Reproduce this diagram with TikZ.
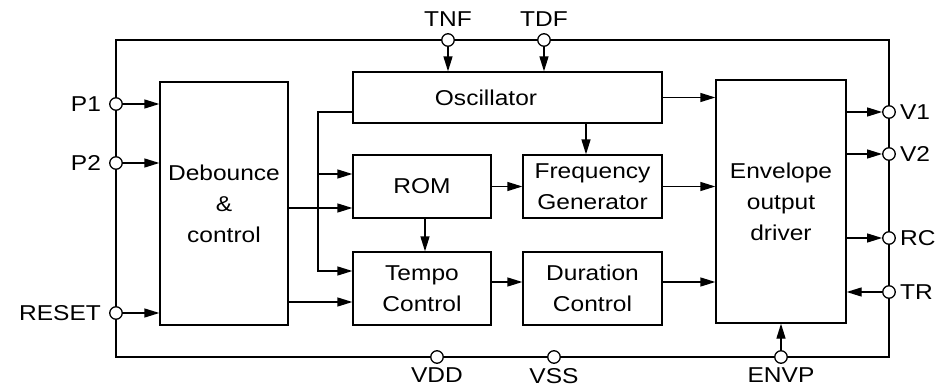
\documentclass[tikz,border=0pt]{standalone}
\usepackage{fontspec}
\setmainfont{Liberation Sans}[FakeStretch=1.14]
\usetikzlibrary{arrows.meta}
\begin{document}
\begin{tikzpicture}[x=1pt,y=-1pt,
  every node/.style={font=\fontsize{21.5}{31}\selectfont},
  box/.style={draw, line width=1.3pt, inner sep=0pt, align=center},
  pin/.style={draw, circle, fill=white, line width=1.3pt, minimum size=12.5pt, inner sep=0pt},
  wire/.style={line width=1.3pt},
  arr/.style={line width=1.3pt, -{Triangle[length=15pt,width=9pt]}},
  lbl/.style={inner sep=0pt}]
\useasboundingbox (0,0) rectangle (938,391);
% frame
\draw[wire] (116,40) rectangle (889,357);
% blocks
\node[box, minimum width=128pt, minimum height=243pt] (deb) at (224,203.5) {Debounce\\\&\\control};
\node[box, minimum width=309pt, minimum height=51pt] (osc) at (507.5,97.5) {};
\node[lbl] (osclbl) at (486,97.5) {Oscillator};
\node[box, minimum width=138pt, minimum height=63pt] (rom) at (422,186.5) {ROM};
\node[box, minimum width=139pt, minimum height=63pt] (freq) at (592.5,186.5) {Frequency\\Generator};
\node[box, minimum width=138pt, minimum height=73pt] (tempo) at (422,288.5) {Tempo\\Control};
\node[box, minimum width=139pt, minimum height=73pt] (dur) at (592.5,288.5) {Duration\\Control};
\node[box, minimum width=130pt, minimum height=243pt] (env) at (781,201.5) {Envelope\\output\\driver};
% pins
\node[pin] (p1) at (116,104) {};
\node[pin] (p2) at (116,163) {};
\node[pin] (reset) at (116,313) {};
\node[pin] (tnf) at (448,40) {};
\node[pin] (tdf) at (544,40) {};
\node[pin] (vdd) at (437,357) {};
\node[pin] (vss) at (554,357) {};
\node[pin] (envp) at (781,357) {};
\node[pin] (v1) at (889,112) {};
\node[pin] (v2) at (889,154) {};
\node[pin] (rc) at (889,238) {};
\node[pin] (tr) at (889,292) {};
% pin labels
\node[lbl, anchor=east] at ([xshift=-8pt]p1.west) {P1};
\node[lbl, anchor=east] at ([xshift=-8pt]p2.west) {P2};
\node[lbl, anchor=east] at ([xshift=-8pt]reset.west) {RESET};
\node[lbl, anchor=base] at ([yshift=7pt]tnf.north) {TNF};
\node[lbl, anchor=base] at ([yshift=7pt]tdf.north) {TDF};
\node[lbl, anchor=north] at ([yshift=-4pt]vdd.south) {VDD};
\node[lbl, anchor=north] at ([yshift=-4pt]vss.south) {VSS};
\node[lbl, anchor=north] at ([yshift=-4pt]envp.south) {ENVP};
\node[lbl, anchor=west] at ([xshift=4pt]v1.east) {V1};
\node[lbl, anchor=west] at ([xshift=4pt]v2.east) {V2};
\node[lbl, anchor=west] at ([xshift=4pt]rc.east) {RC};
\node[lbl, anchor=west] at ([xshift=4pt]tr.east) {TR};
% inputs
\draw[arr] (p1.east) -- (p1 -| deb.west);
\draw[arr] (p2.east) -- (p2 -| deb.west);
\draw[arr] (reset.east) -- (reset -| deb.west);
\draw[arr] (tnf.south) -- (tnf |- osc.north);
\draw[arr] (tdf.south) -- (tdf |- osc.north);
% bus from oscillator
\coordinate (bus) at (318,112);
\draw[arr] (osc.west |- bus) -- (bus) |- (tempo.west |- 0,271);
\draw[arr] (bus |- 0,174) -- (rom.west |- 0,174);
% debounce outputs
\draw[arr] (deb.east |- 0,208) -- (rom.west |- 0,208);
\draw[arr] (deb.east |- 0,302) -- (tempo.west |- 0,302);
% internal
\draw[arr] (osc.east) -- (osc.east -| env.west);
\draw[arr] (osc.south -| 586,0) -- (freq.north -| 586,0);
\draw[arr] (rom.east) -- (freq.west);
\draw[arr] (rom.south -| 425,0) -- (tempo.north -| 425,0);
\draw[arr] (freq.east) -- (freq.east -| env.west);
\draw[arr] (tempo.east |- 0,282) -- (dur.west |- 0,282);
\draw[arr] (dur.east |- 0,282) -- (env.west |- 0,282);
% outputs
\draw[arr] (env.east |- v1) -- (v1.west);
\draw[arr] (env.east |- v2) -- (v2.west);
\draw[arr] (env.east |- rc) -- (rc.west);
\draw[arr] (tr.west) -- (env.east |- tr);
\draw[arr] (envp.north) -- (envp |- env.south);
\end{tikzpicture}
\end{document}
